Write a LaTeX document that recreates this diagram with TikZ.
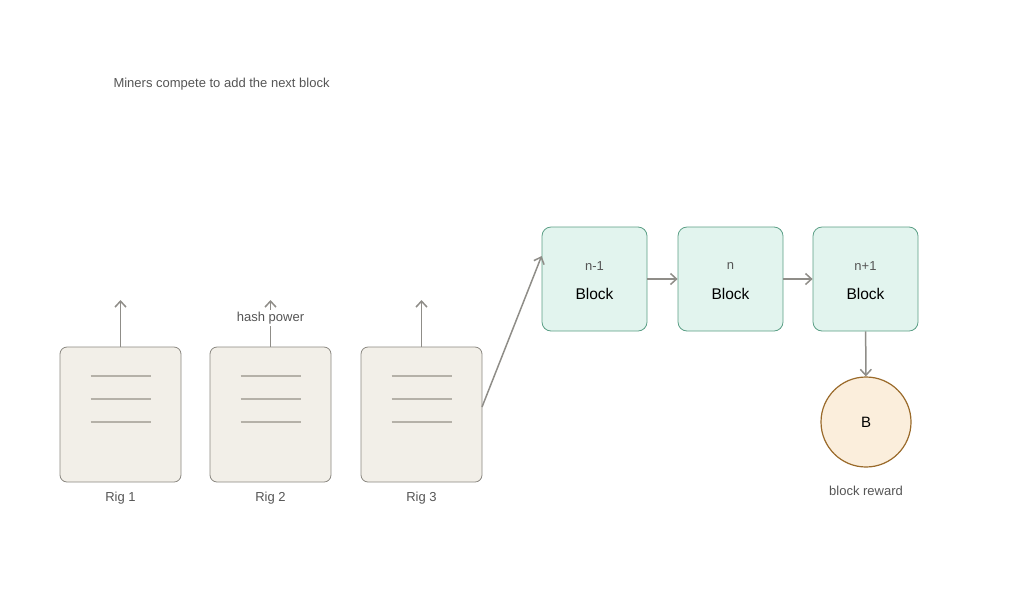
\documentclass[tikz,border=0pt]{standalone}
\usepackage{fontspec}
\setmainfont{Liberation Sans}
\usetikzlibrary{arrows.meta}
\definecolor{rigf}{HTML}{F2EFE8}\definecolor{rigd}{HTML}{8A8780}
\definecolor{blkf}{HTML}{E2F4EE}\definecolor{blkd}{HTML}{5A9E85}
\definecolor{cirf}{HTML}{FBEEDC}\definecolor{cird}{HTML}{9A6A2A}
\definecolor{arr}{HTML}{8F8D88}\definecolor{txt}{HTML}{555555}
\definecolor{ln}{HTML}{B5B1A8}
\begin{document}
\begin{tikzpicture}[x=1pt,y=-1pt,
 rig/.style={draw=rigd,fill=rigf,rounded corners=7,minimum width=121,minimum height=135,inner sep=0,line width=0.8},
 blk/.style={draw=blkd,fill=blkf,rounded corners=9,minimum width=105,minimum height=104,inner sep=0,line width=0.8},
 con/.style={draw=arr,line width=1.5,-{Straight Barb[length=6,width=11]}},
 lab/.style={text=txt,font=\fontsize{13}{15}\selectfont},
 rl/.style={draw=ln,line width=1.2}]
\useasboundingbox (0,0) rectangle (1024,603);
\node[lab,anchor=west] (title) at (110,84) {Miners compete to add the next block};
\foreach \i/\x in {1/120.5,2/270.5,3/421.5}{
 \node[rig] (r\i) at (\x,414.5) {};
 \foreach \y in {376,399,422}{\draw[rl] (\x-30,\y) -- (\x+30,\y);}
 \node[lab] (rl\i) at (\x,498) {Rig \i};
 \coordinate (t\i) at (\x,300);
}
\draw[con] (r1.north) -- (t1);
\draw[con] (r2.north) -- (t2);
\draw[con] (r3.north) -- (t3);
\node[lab,fill=white,inner sep=2] (hp) at (270.5,318) {hash power};
\node[blk] (b1) at (594.5,279) {};
\node[blk] (b2) at (730.5,279) {};
\node[blk] (b3) at (865.5,279) {};
\foreach \i/\s in {1/n-1,2/n,3/n+1}{
 \node[font=\fontsize{15.5}{18}\selectfont] at ([yshift=-15]b\i.center) {Block};
 \node[lab] at ([yshift=13]b\i.center) {\s};
}
\coordinate (r3e) at (482,407);
\draw[con] (r3e) -- ([yshift=23]b1.west);
\draw[con] (b1) -- (b2);
\draw[con] (b2) -- (b3);
\node[circle,draw=cird,fill=cirf,line width=1.2,minimum size=90,inner sep=0,font=\fontsize{15}{18}\selectfont] (c) at (866,422) {B};
\draw[con] (b3) -- (c);
\node[lab] (br) at (866,491) {block reward};
\end{tikzpicture}
\end{document}
